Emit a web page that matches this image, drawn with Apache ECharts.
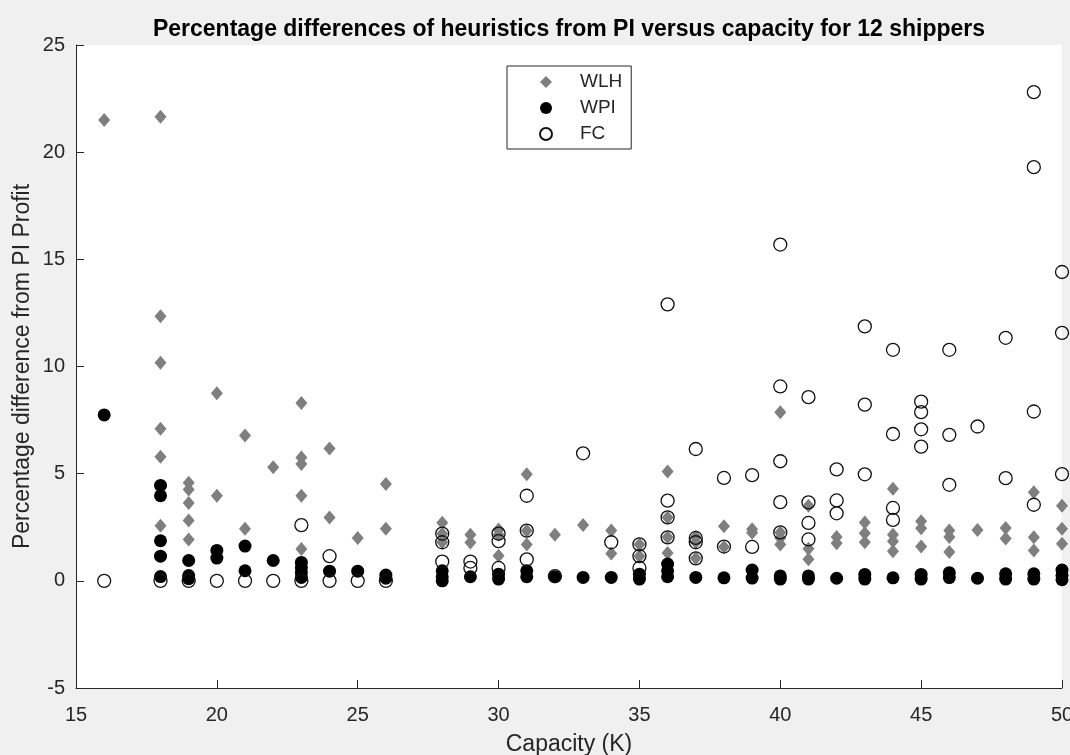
<!DOCTYPE html>
<html>
<head>
<meta charset="utf-8">
<script src="https://cdn.jsdelivr.net/npm/echarts@6/dist/echarts.min.js"></script>
<style>
html,body{margin:0;padding:0;background:#f0f0f0;}
#chart{width:1070px;height:755px;}
</style>
</head>
<body>
<div id="chart"></div>
<script>
// Data: [capacity K, % difference from PI profit]
const seriesNames = ['WLH', 'WPI', 'FC'];
const xTicks = [15, 20, 25, 30, 35, 40, 45, 50];
const yTicks = [-5, 0, 5, 10, 15, 20, 25];

const wlh = [
  [16,21.5],
  [18,21.65],[18,12.34],[18,10.17],[18,7.09],[18,5.79],[18,2.57],
  [19,4.58],[19,4.26],[19,3.63],[19,2.82],[19,1.93],
  [20,8.75],[20,3.97],
  [21,6.78],[21,2.43],
  [22,5.3],
  [23,8.3],[23,5.76],[23,5.45],[23,3.97],[23,1.48],
  [24,6.18],[24,2.95],
  [25,2.0],
  [26,4.52],[26,2.43],
  [28,2.71],[28,2.2],[28,1.8],
  [29,2.15],[29,1.79],
  [30,2.4],[30,2.15],[30,1.17],
  [31,4.97],[31,2.34],[31,1.69],
  [32,2.15],
  [33,2.6],
  [34,2.35],[34,1.28],
  [35,1.7],[35,1.15],
  [36,5.1],[36,2.96],[36,2.03],[36,1.3],
  [37,2.05],[37,1.8],[37,1.05],
  [38,2.55],[38,1.58],
  [39,2.41],[39,2.24],
  [40,7.87],[40,2.26],[40,2.0],[40,1.7],
  [41,3.5],[41,1.5],[41,1.01],
  [42,2.05],[42,1.75],
  [43,2.72],[43,2.22],[43,1.8],
  [44,4.3],[44,2.15],[44,1.85],[44,1.38],
  [45,2.78],[45,2.45],[45,1.6],
  [46,2.35],[46,2.05],[46,1.35],
  [47,2.37],
  [48,2.47],[48,1.98],
  [49,4.13],[49,2.03],[49,1.42],
  [50,3.5],[50,2.43],[50,1.73]
];

const wpi = [
  [16,7.74],
  [18,4.45],[18,3.97],[18,1.87],[18,1.15],[18,0.2],
  [19,0.95],[19,0.25],[19,0.1],
  [20,1.42],[20,1.06],
  [21,1.62],[21,0.47],
  [22,0.95],
  [23,0.86],[23,0.62],[23,0.39],[23,0.16],
  [24,0.45],
  [25,0.45],
  [26,0.27],[26,0.12],
  [28,0.47],[28,0.19],[28,0.0],
  [29,0.19],
  [30,0.31],[30,0.08],
  [31,0.47],[31,0.19],
  [32,0.19],
  [33,0.16],
  [34,0.16],
  [35,0.31],[35,0.08],
  [36,0.78],[36,0.47],[36,0.19],
  [37,0.16],
  [38,0.14],
  [39,0.5],[39,0.13],
  [40,0.23],[40,0.08],
  [41,0.23],[41,0.08],
  [42,0.12],
  [43,0.3],[43,0.08],
  [44,0.14],
  [45,0.3],[45,0.08],
  [46,0.38],[46,0.15],
  [47,0.12],
  [48,0.33],[48,0.08],
  [49,0.33],[49,0.08],
  [50,0.5],[50,0.25],[50,0.05]
];

const fc = [
  [16,0],
  [18,0],
  [19,0],
  [20,0],
  [21,0],
  [22,0],
  [23,2.6],[23,0],
  [24,1.15],[24,0],
  [25,0],
  [26,0],
  [28,2.2],[28,1.8],[28,0.9],
  [29,0.9],[29,0.6],
  [30,2.2],[30,1.85],[30,0.6],
  [31,3.97],[31,2.34],[31,1.0],
  [32,0.22],
  [33,5.95],
  [34,1.8],
  [35,1.7],[35,1.15],[35,0.6],
  [36,12.9],[36,3.74],[36,2.96],[36,2.03],
  [37,6.15],[37,2.0],[37,1.8],[37,1.05],
  [38,4.8],[38,1.6],
  [39,4.93],[39,1.58],
  [40,15.69],[40,9.07],[40,5.58],[40,3.67],[40,2.26],
  [41,8.57],[41,3.66],[41,2.7],[41,1.93],
  [42,5.2],[42,3.75],[42,3.15],
  [43,11.87],[43,8.22],[43,4.97],
  [44,10.78],[44,6.85],[44,3.4],[44,2.84],
  [45,8.36],[45,7.87],[45,7.07],[45,6.26],
  [46,10.78],[46,6.81],[46,4.48],
  [47,7.2],
  [48,11.34],[48,4.79],
  [49,22.8],[49,19.3],[49,7.9],[49,3.55],
  [50,14.41],[50,11.57],[50,4.98]
];

const FONT = 'Liberation Sans, Arial, Helvetica, sans-serif';
const AXIS_COLOR = '#262626';

const chart = echarts.init(document.getElementById('chart'), null, {renderer: 'canvas'});
chart.setOption({
  backgroundColor: '#f0f0f0',
  animation: false,
  title: {
    text: 'Percentage differences of heuristics from PI versus capacity for 12 shippers',
    left: 569,
    textAlign: 'center',
    top: 18,
    padding: 0,
    textStyle: {fontFamily: FONT, fontSize: 23, fontWeight: 'bold', color: '#000'}
  },
  legend: {
    orient: 'vertical',
    left: 507,
    top: 66,
    padding: [6, 9, 5, 32],
    itemWidth: 12,
    itemHeight: 12,
    itemGap: 6,
    backgroundColor: '#fff',
    borderColor: AXIS_COLOR,
    borderWidth: 1,
    borderRadius: 0,
    data: seriesNames,
    textStyle: {fontFamily: FONT, fontSize: 19, color: AXIS_COLOR, lineHeight: 20, padding: [0, 0, 0, 23]}
  },
  grid: {
    left: 76, right: 8, top: 45, bottom: 67,
    containLabel: false,
    outerBoundsMode: 'none',
    show: true, backgroundColor: '#ffffff', borderWidth: 0
  },
  xAxis: {
    type: 'value',
    min: xTicks[0], max: xTicks[xTicks.length - 1], interval: 5,
    name: 'Capacity (K)',
    nameLocation: 'middle',
    nameGap: 45,
    nameMoveOverlap: false,
    nameTextStyle: {fontFamily: FONT, fontSize: 23, color: AXIS_COLOR, lineHeight: 23},
    axisLine: {show: true, onZero: false, lineStyle: {color: AXIS_COLOR, width: 1}},
    axisTick: {show: true, inside: true, length: 8, lineStyle: {color: AXIS_COLOR}},
    axisLabel: {fontFamily: FONT, fontSize: 20, color: AXIS_COLOR, margin: 17},
    splitLine: {show: false}
  },
  yAxis: {
    type: 'value',
    min: yTicks[0], max: yTicks[yTicks.length - 1], interval: 5,
    name: 'Percentage difference from PI Profit',
    nameLocation: 'middle',
    nameGap: 42,
    nameMoveOverlap: false,
    nameTextStyle: {fontFamily: FONT, fontSize: 23, color: AXIS_COLOR, lineHeight: 23},
    axisLine: {show: true, onZero: false, lineStyle: {color: AXIS_COLOR, width: 1}},
    axisTick: {show: true, inside: true, length: 8, lineStyle: {color: AXIS_COLOR}},
    axisLabel: {fontFamily: FONT, fontSize: 20, color: AXIS_COLOR, margin: 11},
    splitLine: {show: false}
  },
  series: [
    {
      name: seriesNames[0], type: 'scatter', data: wlh,
      symbol: 'diamond', symbolSize: [12, 14],
      itemStyle: {color: '#7f7f7f', opacity: 1}
    },
    {
      name: seriesNames[1], type: 'scatter', data: wpi,
      symbol: 'circle', symbolSize: 13,
      itemStyle: {color: '#000000', opacity: 1}
    },
    {
      name: seriesNames[2], type: 'scatter', data: fc,
      symbol: 'circle', symbolSize: 13,
      itemStyle: {color: 'rgba(0,0,0,0)', borderColor: '#111', borderWidth: 1.3, opacity: 1}
    }
  ]
});
</script>
</body>
</html>
